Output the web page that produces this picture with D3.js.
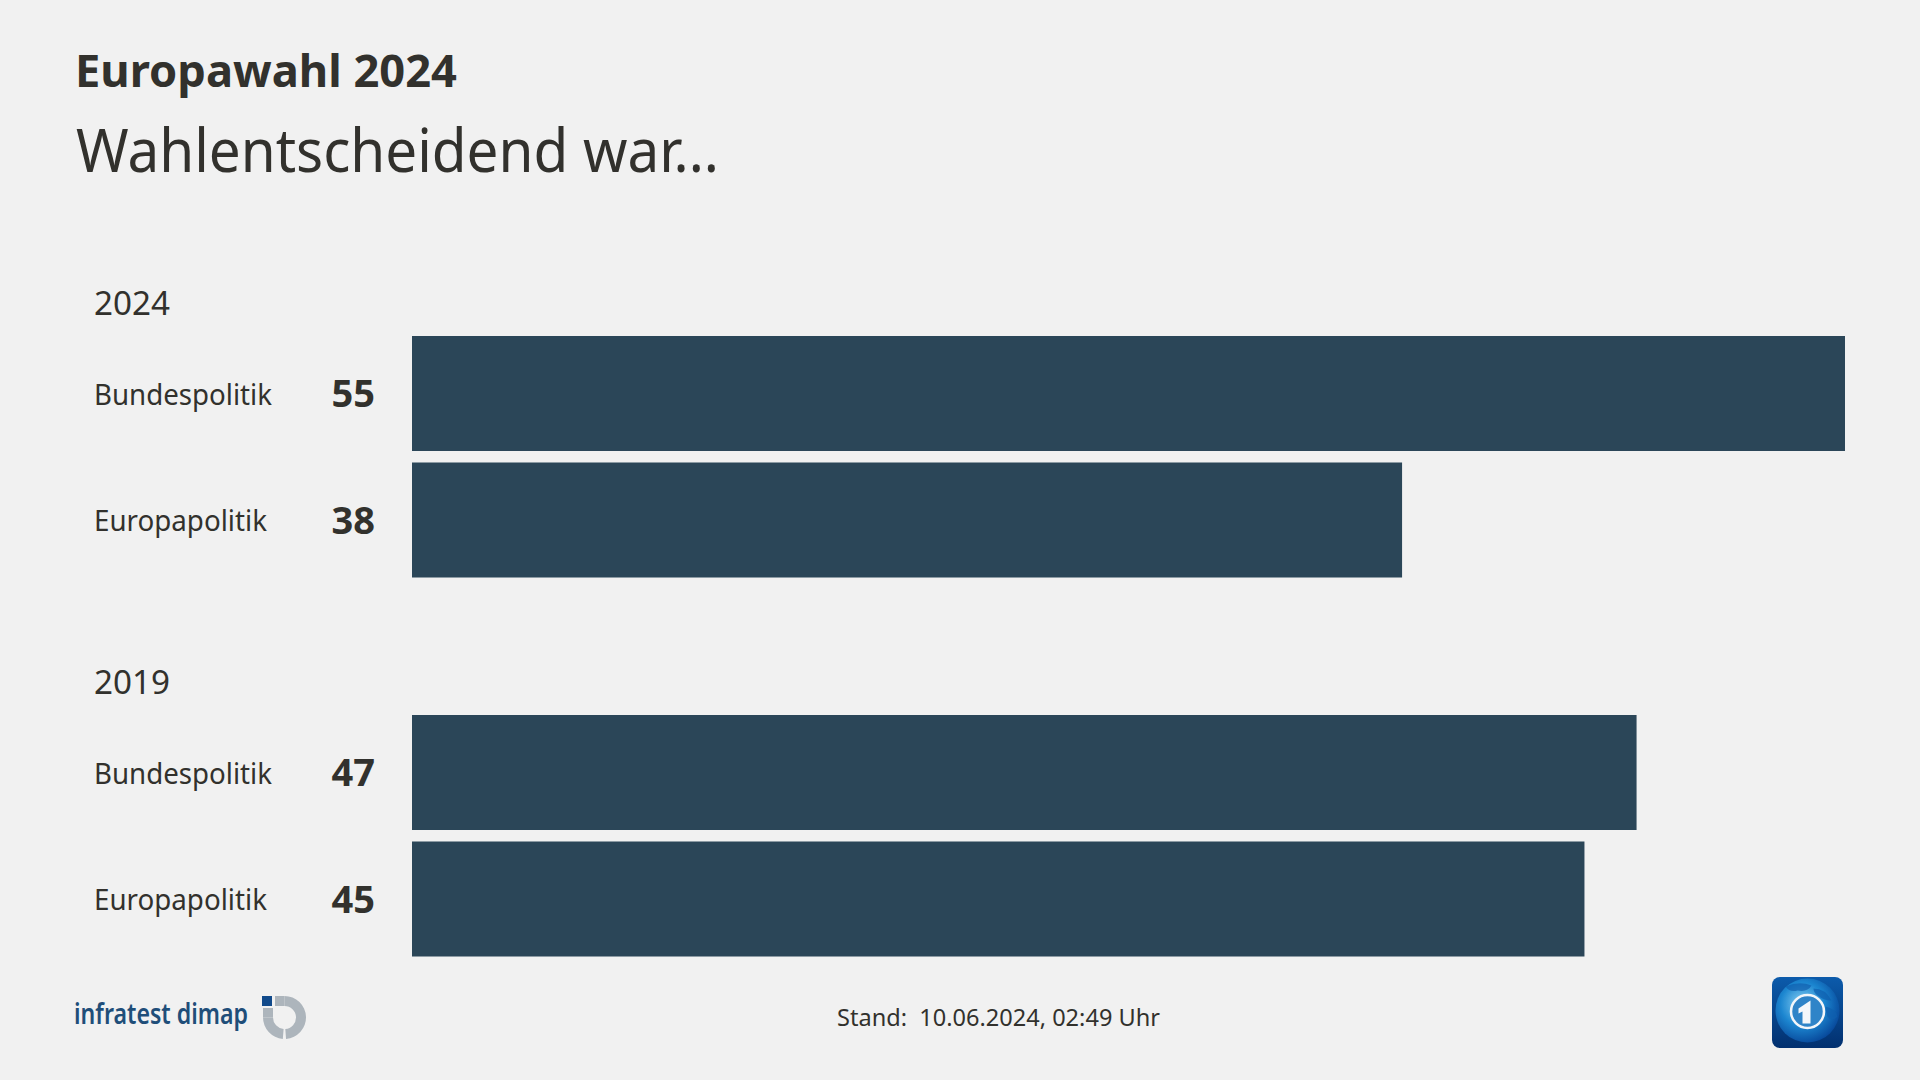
<!DOCTYPE html>
<html>
<head>
<meta charset="utf-8">
<script src="https://cdn.jsdelivr.net/npm/d3@7"></script>
<style>
html, body { margin: 0; padding: 0; background: #f1f1f1; }
svg { display: block; }
text { font-family: "Noto Sans", sans-serif; fill: #32312d; }
</style>
</head>
<body>
<div id="chart"></div>
<script>
// data
var years = ['2024', '2019'];
var categories = ['Bundespolitik', 'Europapolitik'];
var values2024 = [55, 38];
var values2019 = [47, 45];
var seriesByYear = [values2024, values2019];

var width = 1920, height = 1080;

var svg = d3.select('#chart').append('svg')
	.attr('width', width)
	.attr('height', height)
	.style('background-color', '#f1f1f1');

// titles
svg.append('text').attr('x', 75).attr('y', 87)
	.style('font-size', '45px').style('font-weight', 700)
	.attr('textLength', 382).attr('lengthAdjust', 'spacingAndGlyphs')
	.text('Europawahl 2024');
svg.append('text').attr('x', 76).attr('y', 172)
	.style('font-size', '60px').style('font-weight', 400)
	.attr('textLength', 643).attr('lengthAdjust', 'spacingAndGlyphs')
	.text('Wahlentscheidend war...');

// scales
var xScale = d3.scaleLinear()
	.domain([0, 55])
	.range([412, 1845]);

var groupScale = d3.scaleOrdinal()
	.domain(years)
	.range([336, 715]);

var rowScale = d3.scaleBand()
	.domain(categories)
	.range([0, 241.5])
	.paddingInner(11.5 / 126.5);

years.forEach(function(year, i) {
	var g = svg.append('g')
		.attr('transform', 'translate(0,' + groupScale(year) + ')');

	g.append('text').attr('x', 94).attr('y', -21)
		.style('font-size', '32px')
		.attr('textLength', 76).attr('lengthAdjust', 'spacingAndGlyphs')
		.text(year);

	var rows = g.selectAll('g.row')
		.data(categories)
		.enter().append('g')
		.classed('row', true)
		.attr('transform', function(d) { return 'translate(0,' + rowScale(d) + ')'; });

	rows.append('rect')
		.attr('x', xScale(0))
		.attr('y', 0)
		.attr('width', function(d, j) { return xScale(seriesByYear[i][j]) - xScale(0); })
		.attr('height', rowScale.bandwidth())
		.style('fill', '#2b4658');

	rows.append('text')
		.attr('x', 94)
		.attr('y', rowScale.bandwidth() / 2 + 1)
		.attr('dy', '0.35em')
		.style('font-size', '29px')
		.attr('textLength', function(d) { return d === 'Bundespolitik' ? 178 : 173; })
		.attr('lengthAdjust', 'spacingAndGlyphs')
		.text(function(d) { return d; });

	rows.append('text')
		.attr('x', 375)
		.attr('y', rowScale.bandwidth() / 2 + 0.5)
		.attr('dy', '0.35em')
		.attr('text-anchor', 'end')
		.style('font-size', '38px')
		.style('font-weight', 700)
		.text(function(d, j) { return seriesByYear[i][j]; });
});

// footer
svg.append('text').attr('x', 837).attr('y', 1026)
	.style('font-size', '24px')
	.attr('xml:space', 'preserve')
	.attr('textLength', 323).attr('lengthAdjust', 'spacingAndGlyphs')
	.text('Stand:  10.06.2024, 02:49 Uhr');

// infratest dimap logo
svg.append('text').attr('x', 74).attr('y', 1024)
	.style('font-size', '29px').style('font-weight', 600).style('fill', '#1f4e79')
	.attr('textLength', 174).attr('lengthAdjust', 'spacingAndGlyphs')
	.text('infratest dimap');

var logo = svg.append('g').attr('transform', 'translate(284.5,1017.5)');
var arc = d3.arc().innerRadius(11.5).outerRadius(21.5);
logo.append('path')
	.attr('d', arc({ startAngle: 0, endAngle: 3.07 }))
	.style('fill', '#adb5bc');
logo.append('rect')
	.attr('x', -9.5).attr('y', -21.5).attr('width', 9.5).attr('height', 10)
	.style('fill', '#adb5bc');
logo.append('path')
	.attr('d', arc({ startAngle: 3.22, endAngle: Math.PI * 1.5 }))
	.style('fill', '#adb5bc');
logo.append('rect')
	.attr('x', -21.5).attr('y', -9.5).attr('width', 10).attr('height', 9.5)
	.style('fill', '#adb5bc');
logo.append('rect')
	.attr('x', -22.5).attr('y', -21.5).attr('width', 10).attr('height', 10)
	.style('fill', '#114a8b');

// tagesschau logo
var defs = svg.append('defs');
var bgGrad = defs.append('linearGradient').attr('id', 'tileGrad')
	.attr('x1', 0).attr('y1', 0).attr('x2', 0).attr('y2', 1);
bgGrad.append('stop').attr('offset', '0%').style('stop-color', '#0c5bab');
bgGrad.append('stop').attr('offset', '100%').style('stop-color', '#02306f');
var globeGrad = defs.append('radialGradient').attr('id', 'globeGrad')
	.attr('cx', '42%').attr('cy', '40%').attr('r', '62%');
globeGrad.append('stop').attr('offset', '0%').style('stop-color', '#8fd4f5');
globeGrad.append('stop').attr('offset', '55%').style('stop-color', '#1c86d0');
globeGrad.append('stop').attr('offset', '100%').style('stop-color', '#084a9c');
defs.append('clipPath').attr('id', 'globeClip')
	.append('circle').attr('cy', -2).attr('r', 32);

var tile = svg.append('g').attr('transform', 'translate(1807.5,1012.5)');
tile.append('rect')
	.attr('x', -35.5).attr('y', -35.5).attr('width', 71).attr('height', 71).attr('rx', 8)
	.style('fill', 'url(#tileGrad)');
tile.append('circle').attr('cy', -2).attr('r', 32).style('fill', 'url(#globeGrad)');
// land masses on the globe
var land = tile.append('g').attr('clip-path', 'url(#globeClip)')
	.style('fill', '#0f5fae').style('opacity', 0.7);
land.append('path').attr('d', 'M-22,-26 Q-8,-32 4,-27 Q0,-20 -10,-22 Q-18,-20 -22,-26 Z');
land.append('path').attr('d', 'M6,-24 Q18,-24 24,-12 Q16,-12 10,-17 Q6,-20 6,-24 Z');
land.append('path').attr('d', 'M18,-6 Q28,-4 30,4 Q24,10 20,4 Q18,0 18,-6 Z');
tile.append('circle').attr('cy', -1).attr('r', 16.5)
	.style('fill', '#2f84c8').style('stroke', '#f2f6fa').style('stroke-width', 2.5);
tile.append('path')
	.attr('d', 'M-9,-4 L3,-12 L3,11 L-5,11 L-5,-1 L-9,1 Z')
	.style('fill', '#f4f7fa');
</script>
</body>
</html>
